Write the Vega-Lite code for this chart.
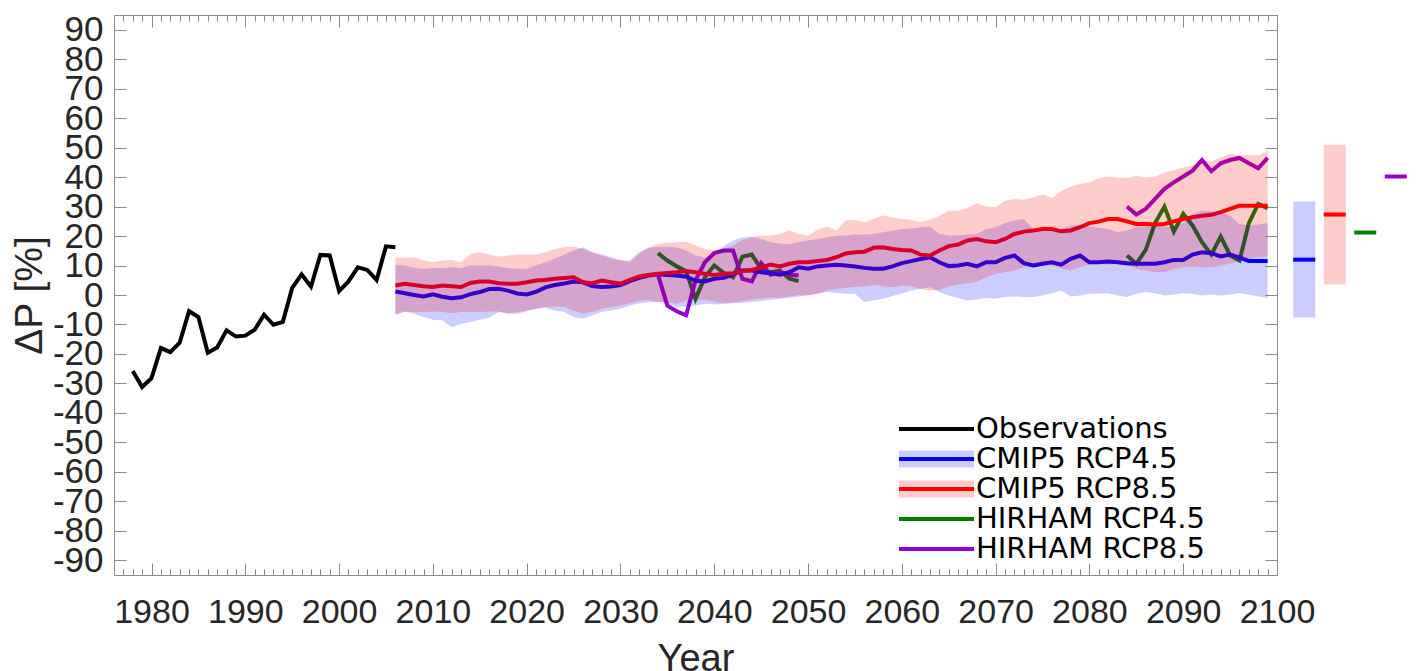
{
  "$schema": "https://vega.github.io/schema/vega-lite/v6.json",
  "padding": {"left": 9, "top": 12, "right": 0, "bottom": -7},
  "spacing": 12,
  "bounds": "flush",
  "datasets": {
    "obs": [
      {"s":"Observations","year":1978,"v":-25.8},{"s":"Observations","year":1979,"v":-31.2},{"s":"Observations","year":1980,"v":-28.2},
      {"s":"Observations","year":1981,"v":-18.0},{"s":"Observations","year":1982,"v":-19.4},{"s":"Observations","year":1983,"v":-16.2},
      {"s":"Observations","year":1984,"v":-5.5},{"s":"Observations","year":1985,"v":-7.5},{"s":"Observations","year":1986,"v":-19.6},
      {"s":"Observations","year":1987,"v":-17.8},{"s":"Observations","year":1988,"v":-12.0},{"s":"Observations","year":1989,"v":-14.1},
      {"s":"Observations","year":1990,"v":-13.8},{"s":"Observations","year":1991,"v":-11.8},{"s":"Observations","year":1992,"v":-6.7},
      {"s":"Observations","year":1993,"v":-10.1},{"s":"Observations","year":1994,"v":-9.1},{"s":"Observations","year":1995,"v":2.4},
      {"s":"Observations","year":1996,"v":7.0},{"s":"Observations","year":1997,"v":2.8},{"s":"Observations","year":1998,"v":13.6},
      {"s":"Observations","year":1999,"v":13.4},{"s":"Observations","year":2000,"v":1.3},{"s":"Observations","year":2001,"v":4.6},
      {"s":"Observations","year":2002,"v":9.4},{"s":"Observations","year":2003,"v":8.5},{"s":"Observations","year":2004,"v":5.1},
      {"s":"Observations","year":2005,"v":16.5},{"s":"Observations","year":2006,"v":16.2}
    ],
    "hir": [
      {"s":"HIRHAM RCP4.5","p":1,"year":2034,"v":14.2},{"s":"HIRHAM RCP4.5","p":1,"year":2035,"v":11.7},{"s":"HIRHAM RCP4.5","p":1,"year":2036,"v":9.7},
      {"s":"HIRHAM RCP4.5","p":1,"year":2037,"v":8.1},{"s":"HIRHAM RCP4.5","p":1,"year":2038,"v":-1.3},{"s":"HIRHAM RCP4.5","p":1,"year":2039,"v":6.0},
      {"s":"HIRHAM RCP4.5","p":1,"year":2040,"v":10.0},{"s":"HIRHAM RCP4.5","p":1,"year":2041,"v":7.5},{"s":"HIRHAM RCP4.5","p":1,"year":2042,"v":6.0},
      {"s":"HIRHAM RCP4.5","p":1,"year":2043,"v":13.0},{"s":"HIRHAM RCP4.5","p":1,"year":2044,"v":13.7},{"s":"HIRHAM RCP4.5","p":1,"year":2045,"v":8.9},
      {"s":"HIRHAM RCP4.5","p":1,"year":2046,"v":7.7},{"s":"HIRHAM RCP4.5","p":1,"year":2047,"v":8.3},{"s":"HIRHAM RCP4.5","p":1,"year":2048,"v":5.5},
      {"s":"HIRHAM RCP4.5","p":1,"year":2049,"v":4.7},
      {"s":"HIRHAM RCP4.5","p":2,"year":2084,"v":13.4},{"s":"HIRHAM RCP4.5","p":2,"year":2085,"v":10.6},{"s":"HIRHAM RCP4.5","p":2,"year":2086,"v":15.3},
      {"s":"HIRHAM RCP4.5","p":2,"year":2087,"v":24.4},{"s":"HIRHAM RCP4.5","p":2,"year":2088,"v":30.0},{"s":"HIRHAM RCP4.5","p":2,"year":2089,"v":21.6},
      {"s":"HIRHAM RCP4.5","p":2,"year":2090,"v":27.5},{"s":"HIRHAM RCP4.5","p":2,"year":2091,"v":23.6},{"s":"HIRHAM RCP4.5","p":2,"year":2092,"v":17.9},
      {"s":"HIRHAM RCP4.5","p":2,"year":2093,"v":13.7},{"s":"HIRHAM RCP4.5","p":2,"year":2094,"v":19.8},{"s":"HIRHAM RCP4.5","p":2,"year":2095,"v":13.4},
      {"s":"HIRHAM RCP4.5","p":2,"year":2096,"v":11.7},{"s":"HIRHAM RCP4.5","p":2,"year":2097,"v":24.4},{"s":"HIRHAM RCP4.5","p":2,"year":2098,"v":30.9},
      {"s":"HIRHAM RCP4.5","p":2,"year":2099,"v":29.5},
      {"s":"HIRHAM RCP8.5","p":1,"year":2034,"v":6.8},{"s":"HIRHAM RCP8.5","p":1,"year":2035,"v":-3.6},{"s":"HIRHAM RCP8.5","p":1,"year":2036,"v":-5.5},
      {"s":"HIRHAM RCP8.5","p":1,"year":2037,"v":-6.9},{"s":"HIRHAM RCP8.5","p":1,"year":2038,"v":4.9},{"s":"HIRHAM RCP8.5","p":1,"year":2039,"v":11.1},
      {"s":"HIRHAM RCP8.5","p":1,"year":2040,"v":14.2},{"s":"HIRHAM RCP8.5","p":1,"year":2041,"v":15.1},{"s":"HIRHAM RCP8.5","p":1,"year":2042,"v":15.1},
      {"s":"HIRHAM RCP8.5","p":1,"year":2043,"v":5.5},{"s":"HIRHAM RCP8.5","p":1,"year":2044,"v":4.6},{"s":"HIRHAM RCP8.5","p":1,"year":2045,"v":10.8},
      {"s":"HIRHAM RCP8.5","p":1,"year":2046,"v":6.9},{"s":"HIRHAM RCP8.5","p":1,"year":2047,"v":7.7},{"s":"HIRHAM RCP8.5","p":1,"year":2048,"v":6.9},
      {"s":"HIRHAM RCP8.5","p":1,"year":2049,"v":6.6},
      {"s":"HIRHAM RCP8.5","p":2,"year":2084,"v":30.0},{"s":"HIRHAM RCP8.5","p":2,"year":2085,"v":27.3},{"s":"HIRHAM RCP8.5","p":2,"year":2086,"v":29.2},
      {"s":"HIRHAM RCP8.5","p":2,"year":2087,"v":32.6},{"s":"HIRHAM RCP8.5","p":2,"year":2088,"v":36.0},{"s":"HIRHAM RCP8.5","p":2,"year":2089,"v":38.2},
      {"s":"HIRHAM RCP8.5","p":2,"year":2090,"v":40.2},{"s":"HIRHAM RCP8.5","p":2,"year":2091,"v":42.2},{"s":"HIRHAM RCP8.5","p":2,"year":2092,"v":45.8},
      {"s":"HIRHAM RCP8.5","p":2,"year":2093,"v":42.0},{"s":"HIRHAM RCP8.5","p":2,"year":2094,"v":44.7},{"s":"HIRHAM RCP8.5","p":2,"year":2095,"v":45.8},
      {"s":"HIRHAM RCP8.5","p":2,"year":2096,"v":46.5},{"s":"HIRHAM RCP8.5","p":2,"year":2097,"v":44.7},{"s":"HIRHAM RCP8.5","p":2,"year":2098,"v":43.0},
      {"s":"HIRHAM RCP8.5","p":2,"year":2099,"v":46.5}
    ],
    "cmip": [
      {"s":"CMIP5 RCP4.5","year":2006,"m":1.2,"lo":-6.9,"hi":10.2},{"s":"CMIP5 RCP4.5","year":2007,"m":0.6,"lo":-5.5,"hi":10.0},
      {"s":"CMIP5 RCP4.5","year":2008,"m":0.0,"lo":-6.4,"hi":9.2},{"s":"CMIP5 RCP4.5","year":2009,"m":-0.5,"lo":-7.5,"hi":8.9},
      {"s":"CMIP5 RCP4.5","year":2010,"m":0.2,"lo":-8.4,"hi":9.2},{"s":"CMIP5 RCP4.5","year":2011,"m":-0.6,"lo":-8.6,"hi":9.2},
      {"s":"CMIP5 RCP4.5","year":2012,"m":-1.1,"lo":-10.9,"hi":9.4},{"s":"CMIP5 RCP4.5","year":2013,"m":-0.8,"lo":-9.8,"hi":9.2},
      {"s":"CMIP5 RCP4.5","year":2014,"m":0.3,"lo":-9.2,"hi":10.0},{"s":"CMIP5 RCP4.5","year":2015,"m":1.0,"lo":-8.4,"hi":10.0},
      {"s":"CMIP5 RCP4.5","year":2016,"m":2.0,"lo":-7.7,"hi":10.0},{"s":"CMIP5 RCP4.5","year":2017,"m":2.1,"lo":-5.8,"hi":9.7},
      {"s":"CMIP5 RCP4.5","year":2018,"m":1.5,"lo":-6.2,"hi":9.2},{"s":"CMIP5 RCP4.5","year":2019,"m":0.5,"lo":-6.4,"hi":8.9},
      {"s":"CMIP5 RCP4.5","year":2020,"m":0.2,"lo":-5.5,"hi":8.9},{"s":"CMIP5 RCP4.5","year":2021,"m":1.1,"lo":-4.7,"hi":10.0},
      {"s":"CMIP5 RCP4.5","year":2022,"m":2.6,"lo":-4.3,"hi":11.1},{"s":"CMIP5 RCP4.5","year":2023,"m":3.4,"lo":-5.3,"hi":12.3},
      {"s":"CMIP5 RCP4.5","year":2024,"m":3.9,"lo":-5.8,"hi":13.7},{"s":"CMIP5 RCP4.5","year":2025,"m":4.6,"lo":-7.5,"hi":15.1},
      {"s":"CMIP5 RCP4.5","year":2026,"m":4.3,"lo":-8.1,"hi":16.2},{"s":"CMIP5 RCP4.5","year":2027,"m":3.0,"lo":-6.9,"hi":14.5},
      {"s":"CMIP5 RCP4.5","year":2028,"m":2.7,"lo":-5.8,"hi":13.7},{"s":"CMIP5 RCP4.5","year":2029,"m":2.9,"lo":-5.3,"hi":12.8},
      {"s":"CMIP5 RCP4.5","year":2030,"m":3.4,"lo":-4.7,"hi":11.7},{"s":"CMIP5 RCP4.5","year":2031,"m":4.7,"lo":-3.6,"hi":11.7},
      {"s":"CMIP5 RCP4.5","year":2032,"m":5.8,"lo":-2.8,"hi":14.5},{"s":"CMIP5 RCP4.5","year":2033,"m":6.6,"lo":-2.4,"hi":16.0},
      {"s":"CMIP5 RCP4.5","year":2034,"m":7.0,"lo":-2.4,"hi":16.4},{"s":"CMIP5 RCP4.5","year":2035,"m":6.8,"lo":-2.8,"hi":16.4},
      {"s":"CMIP5 RCP4.5","year":2036,"m":6.6,"lo":-4.1,"hi":16.2},{"s":"CMIP5 RCP4.5","year":2037,"m":6.2,"lo":-3.9,"hi":15.1},
      {"s":"CMIP5 RCP4.5","year":2038,"m":4.8,"lo":-3.6,"hi":13.4},{"s":"CMIP5 RCP4.5","year":2039,"m":4.6,"lo":-3.0,"hi":12.8},
      {"s":"CMIP5 RCP4.5","year":2040,"m":5.5,"lo":-3.2,"hi":14.0},{"s":"CMIP5 RCP4.5","year":2041,"m":5.8,"lo":-3.0,"hi":16.5},
      {"s":"CMIP5 RCP4.5","year":2042,"m":6.9,"lo":-2.8,"hi":18.5},{"s":"CMIP5 RCP4.5","year":2043,"m":8.3,"lo":-2.6,"hi":19.5},
      {"s":"CMIP5 RCP4.5","year":2044,"m":8.3,"lo":-2.4,"hi":19.8},{"s":"CMIP5 RCP4.5","year":2045,"m":7.7,"lo":-2.0,"hi":19.0},
      {"s":"CMIP5 RCP4.5","year":2046,"m":7.4,"lo":-1.6,"hi":17.9},{"s":"CMIP5 RCP4.5","year":2047,"m":6.9,"lo":-1.3,"hi":17.5},
      {"s":"CMIP5 RCP4.5","year":2048,"m":7.7,"lo":-1.0,"hi":17.2},{"s":"CMIP5 RCP4.5","year":2049,"m":9.4,"lo":-0.5,"hi":18.0},
      {"s":"CMIP5 RCP4.5","year":2050,"m":8.9,"lo":0.0,"hi":18.5},{"s":"CMIP5 RCP4.5","year":2051,"m":9.7,"lo":0.5,"hi":19.0},
      {"s":"CMIP5 RCP4.5","year":2052,"m":10.0,"lo":1.0,"hi":19.6},{"s":"CMIP5 RCP4.5","year":2053,"m":10.3,"lo":0.8,"hi":20.0},
      {"s":"CMIP5 RCP4.5","year":2054,"m":10.0,"lo":0.4,"hi":20.2},{"s":"CMIP5 RCP4.5","year":2055,"m":9.7,"lo":0.4,"hi":20.5},
      {"s":"CMIP5 RCP4.5","year":2056,"m":9.2,"lo":-2.4,"hi":20.5},{"s":"CMIP5 RCP4.5","year":2057,"m":8.9,"lo":-1.8,"hi":20.7},
      {"s":"CMIP5 RCP4.5","year":2058,"m":8.9,"lo":-1.3,"hi":21.3},{"s":"CMIP5 RCP4.5","year":2059,"m":9.7,"lo":-0.3,"hi":21.9},
      {"s":"CMIP5 RCP4.5","year":2060,"m":10.8,"lo":0.5,"hi":22.3},{"s":"CMIP5 RCP4.5","year":2061,"m":11.5,"lo":1.5,"hi":22.6},
      {"s":"CMIP5 RCP4.5","year":2062,"m":12.2,"lo":2.0,"hi":23.0},{"s":"CMIP5 RCP4.5","year":2063,"m":12.8,"lo":2.6,"hi":23.2},
      {"s":"CMIP5 RCP4.5","year":2064,"m":11.1,"lo":1.0,"hi":20.7},{"s":"CMIP5 RCP4.5","year":2065,"m":9.8,"lo":-0.2,"hi":20.3},
      {"s":"CMIP5 RCP4.5","year":2066,"m":10.0,"lo":-1.0,"hi":20.2},{"s":"CMIP5 RCP4.5","year":2067,"m":10.6,"lo":-1.9,"hi":20.5},
      {"s":"CMIP5 RCP4.5","year":2068,"m":9.7,"lo":-1.5,"hi":20.7},{"s":"CMIP5 RCP4.5","year":2069,"m":11.1,"lo":-1.0,"hi":22.4},
      {"s":"CMIP5 RCP4.5","year":2070,"m":11.1,"lo":-1.3,"hi":23.0},{"s":"CMIP5 RCP4.5","year":2071,"m":12.6,"lo":-0.7,"hi":24.4},
      {"s":"CMIP5 RCP4.5","year":2072,"m":13.4,"lo":-0.5,"hi":25.3},{"s":"CMIP5 RCP4.5","year":2073,"m":10.8,"lo":-0.7,"hi":25.8},
      {"s":"CMIP5 RCP4.5","year":2074,"m":10.0,"lo":-0.7,"hi":22.4},{"s":"CMIP5 RCP4.5","year":2075,"m":10.6,"lo":-0.2,"hi":21.9},
      {"s":"CMIP5 RCP4.5","year":2076,"m":11.1,"lo":0.6,"hi":22.1},{"s":"CMIP5 RCP4.5","year":2077,"m":10.3,"lo":1.5,"hi":22.4},
      {"s":"CMIP5 RCP4.5","year":2078,"m":12.3,"lo":-0.5,"hi":23.6},{"s":"CMIP5 RCP4.5","year":2079,"m":13.4,"lo":-0.2,"hi":23.6},
      {"s":"CMIP5 RCP4.5","year":2080,"m":11.1,"lo":0.4,"hi":23.2},{"s":"CMIP5 RCP4.5","year":2081,"m":11.1,"lo":0.4,"hi":22.8},
      {"s":"CMIP5 RCP4.5","year":2082,"m":11.4,"lo":0.6,"hi":22.4},{"s":"CMIP5 RCP4.5","year":2083,"m":11.1,"lo":-0.2,"hi":21.3},
      {"s":"CMIP5 RCP4.5","year":2084,"m":10.8,"lo":-0.7,"hi":21.9},{"s":"CMIP5 RCP4.5","year":2085,"m":10.6,"lo":0.4,"hi":23.0},
      {"s":"CMIP5 RCP4.5","year":2086,"m":10.6,"lo":1.0,"hi":23.2},{"s":"CMIP5 RCP4.5","year":2087,"m":10.6,"lo":0.6,"hi":23.6},
      {"s":"CMIP5 RCP4.5","year":2088,"m":11.1,"lo":-0.2,"hi":23.2},{"s":"CMIP5 RCP4.5","year":2089,"m":11.9,"lo":0.2,"hi":23.0},
      {"s":"CMIP5 RCP4.5","year":2090,"m":11.9,"lo":0.6,"hi":24.4},{"s":"CMIP5 RCP4.5","year":2091,"m":13.7,"lo":0.4,"hi":27.5},
      {"s":"CMIP5 RCP4.5","year":2092,"m":14.5,"lo":-0.2,"hi":28.6},{"s":"CMIP5 RCP4.5","year":2093,"m":14.2,"lo":0.2,"hi":28.4},
      {"s":"CMIP5 RCP4.5","year":2094,"m":13.1,"lo":-0.2,"hi":28.1},{"s":"CMIP5 RCP4.5","year":2095,"m":13.7,"lo":0.2,"hi":26.9},
      {"s":"CMIP5 RCP4.5","year":2096,"m":12.8,"lo":0.6,"hi":24.1},{"s":"CMIP5 RCP4.5","year":2097,"m":11.5,"lo":0.2,"hi":23.6},
      {"s":"CMIP5 RCP4.5","year":2098,"m":11.5,"lo":-0.5,"hi":23.9},{"s":"CMIP5 RCP4.5","year":2099,"m":11.5,"lo":-1.0,"hi":24.4},
      {"s":"CMIP5 RCP8.5","year":2006,"m":3.2,"lo":-6.4,"hi":12.6},{"s":"CMIP5 RCP8.5","year":2007,"m":3.8,"lo":-5.8,"hi":12.6},
      {"s":"CMIP5 RCP8.5","year":2008,"m":3.4,"lo":-5.8,"hi":12.8},{"s":"CMIP5 RCP8.5","year":2009,"m":3.0,"lo":-5.8,"hi":11.7},
      {"s":"CMIP5 RCP8.5","year":2010,"m":2.7,"lo":-5.6,"hi":11.1},{"s":"CMIP5 RCP8.5","year":2011,"m":3.2,"lo":-5.8,"hi":11.7},
      {"s":"CMIP5 RCP8.5","year":2012,"m":3.0,"lo":-6.2,"hi":11.9},{"s":"CMIP5 RCP8.5","year":2013,"m":2.7,"lo":-5.8,"hi":11.1},
      {"s":"CMIP5 RCP8.5","year":2014,"m":4.1,"lo":-5.8,"hi":14.0},{"s":"CMIP5 RCP8.5","year":2015,"m":4.6,"lo":-5.8,"hi":14.5},
      {"s":"CMIP5 RCP8.5","year":2016,"m":4.6,"lo":-5.6,"hi":13.7},{"s":"CMIP5 RCP8.5","year":2017,"m":4.0,"lo":-5.6,"hi":13.1},
      {"s":"CMIP5 RCP8.5","year":2018,"m":3.8,"lo":-6.4,"hi":13.4},{"s":"CMIP5 RCP8.5","year":2019,"m":3.8,"lo":-5.8,"hi":13.7},
      {"s":"CMIP5 RCP8.5","year":2020,"m":4.3,"lo":-5.3,"hi":13.7},{"s":"CMIP5 RCP8.5","year":2021,"m":4.9,"lo":-4.7,"hi":13.7},
      {"s":"CMIP5 RCP8.5","year":2022,"m":5.1,"lo":-4.1,"hi":14.5},{"s":"CMIP5 RCP8.5","year":2023,"m":5.5,"lo":-3.9,"hi":15.6},
      {"s":"CMIP5 RCP8.5","year":2024,"m":5.8,"lo":-4.1,"hi":16.2},{"s":"CMIP5 RCP8.5","year":2025,"m":6.0,"lo":-5.3,"hi":16.4},
      {"s":"CMIP5 RCP8.5","year":2026,"m":4.3,"lo":-6.4,"hi":15.6},{"s":"CMIP5 RCP8.5","year":2027,"m":4.0,"lo":-5.8,"hi":14.5},
      {"s":"CMIP5 RCP8.5","year":2028,"m":4.9,"lo":-4.7,"hi":13.4},{"s":"CMIP5 RCP8.5","year":2029,"m":4.3,"lo":-4.1,"hi":12.3},
      {"s":"CMIP5 RCP8.5","year":2030,"m":3.8,"lo":-3.6,"hi":11.9},{"s":"CMIP5 RCP8.5","year":2031,"m":5.1,"lo":-2.8,"hi":11.1},
      {"s":"CMIP5 RCP8.5","year":2032,"m":6.3,"lo":-1.9,"hi":14.0},{"s":"CMIP5 RCP8.5","year":2033,"m":6.8,"lo":-1.6,"hi":16.2},
      {"s":"CMIP5 RCP8.5","year":2034,"m":7.2,"lo":-2.4,"hi":17.3},{"s":"CMIP5 RCP8.5","year":2035,"m":7.5,"lo":-2.4,"hi":17.7},
      {"s":"CMIP5 RCP8.5","year":2036,"m":7.7,"lo":-3.0,"hi":17.9},{"s":"CMIP5 RCP8.5","year":2037,"m":8.1,"lo":-1.9,"hi":18.1},
      {"s":"CMIP5 RCP8.5","year":2038,"m":7.7,"lo":-1.9,"hi":16.8},{"s":"CMIP5 RCP8.5","year":2039,"m":7.2,"lo":-1.6,"hi":15.6},
      {"s":"CMIP5 RCP8.5","year":2040,"m":6.8,"lo":-2.1,"hi":15.1},{"s":"CMIP5 RCP8.5","year":2041,"m":7.2,"lo":-2.8,"hi":15.6},
      {"s":"CMIP5 RCP8.5","year":2042,"m":7.4,"lo":-2.5,"hi":16.8},{"s":"CMIP5 RCP8.5","year":2043,"m":8.1,"lo":-2.0,"hi":18.6},
      {"s":"CMIP5 RCP8.5","year":2044,"m":8.5,"lo":-1.5,"hi":19.6},{"s":"CMIP5 RCP8.5","year":2045,"m":9.4,"lo":-1.2,"hi":20.2},
      {"s":"CMIP5 RCP8.5","year":2046,"m":10.3,"lo":-0.8,"hi":20.2},{"s":"CMIP5 RCP8.5","year":2047,"m":9.7,"lo":-1.0,"hi":20.7},
      {"s":"CMIP5 RCP8.5","year":2048,"m":10.6,"lo":-0.5,"hi":21.9},{"s":"CMIP5 RCP8.5","year":2049,"m":11.1,"lo":0.0,"hi":20.7},
      {"s":"CMIP5 RCP8.5","year":2050,"m":11.1,"lo":-0.2,"hi":20.2},{"s":"CMIP5 RCP8.5","year":2051,"m":11.5,"lo":0.3,"hi":22.1},
      {"s":"CMIP5 RCP8.5","year":2052,"m":11.9,"lo":1.5,"hi":23.2},{"s":"CMIP5 RCP8.5","year":2053,"m":12.8,"lo":2.0,"hi":21.9},
      {"s":"CMIP5 RCP8.5","year":2054,"m":14.1,"lo":2.5,"hi":25.3},{"s":"CMIP5 RCP8.5","year":2055,"m":14.5,"lo":2.8,"hi":25.5},
      {"s":"CMIP5 RCP8.5","year":2056,"m":14.7,"lo":3.0,"hi":24.7},{"s":"CMIP5 RCP8.5","year":2057,"m":16.0,"lo":3.4,"hi":25.8},
      {"s":"CMIP5 RCP8.5","year":2058,"m":16.2,"lo":3.0,"hi":27.1},{"s":"CMIP5 RCP8.5","year":2059,"m":15.6,"lo":2.6,"hi":26.2},
      {"s":"CMIP5 RCP8.5","year":2060,"m":15.3,"lo":3.2,"hi":25.8},{"s":"CMIP5 RCP8.5","year":2061,"m":15.1,"lo":3.0,"hi":25.5},
      {"s":"CMIP5 RCP8.5","year":2062,"m":13.7,"lo":2.0,"hi":24.7},{"s":"CMIP5 RCP8.5","year":2063,"m":13.4,"lo":1.5,"hi":25.5},
      {"s":"CMIP5 RCP8.5","year":2064,"m":15.1,"lo":1.8,"hi":26.9},{"s":"CMIP5 RCP8.5","year":2065,"m":16.6,"lo":3.0,"hi":28.6},
      {"s":"CMIP5 RCP8.5","year":2066,"m":17.1,"lo":3.6,"hi":28.6},{"s":"CMIP5 RCP8.5","year":2067,"m":18.5,"lo":4.0,"hi":29.5},
      {"s":"CMIP5 RCP8.5","year":2068,"m":19.0,"lo":4.5,"hi":31.1},{"s":"CMIP5 RCP8.5","year":2069,"m":18.2,"lo":6.0,"hi":30.0},
      {"s":"CMIP5 RCP8.5","year":2070,"m":17.9,"lo":7.2,"hi":29.8},{"s":"CMIP5 RCP8.5","year":2071,"m":19.0,"lo":7.7,"hi":32.0},
      {"s":"CMIP5 RCP8.5","year":2072,"m":20.7,"lo":8.3,"hi":32.6},{"s":"CMIP5 RCP8.5","year":2073,"m":21.5,"lo":9.4,"hi":32.3},
      {"s":"CMIP5 RCP8.5","year":2074,"m":21.9,"lo":10.0,"hi":33.2},{"s":"CMIP5 RCP8.5","year":2075,"m":22.4,"lo":10.3,"hi":34.1},
      {"s":"CMIP5 RCP8.5","year":2076,"m":22.4,"lo":10.0,"hi":32.9},{"s":"CMIP5 RCP8.5","year":2077,"m":21.6,"lo":8.9,"hi":35.4},
      {"s":"CMIP5 RCP8.5","year":2078,"m":21.9,"lo":8.3,"hi":36.8},{"s":"CMIP5 RCP8.5","year":2079,"m":23.0,"lo":9.4,"hi":37.7},
      {"s":"CMIP5 RCP8.5","year":2080,"m":24.4,"lo":10.3,"hi":38.2},{"s":"CMIP5 RCP8.5","year":2081,"m":24.9,"lo":10.6,"hi":39.7},
      {"s":"CMIP5 RCP8.5","year":2082,"m":25.8,"lo":10.3,"hi":40.2},{"s":"CMIP5 RCP8.5","year":2083,"m":25.8,"lo":10.6,"hi":39.9},
      {"s":"CMIP5 RCP8.5","year":2084,"m":25.0,"lo":10.0,"hi":39.7},{"s":"CMIP5 RCP8.5","year":2085,"m":24.1,"lo":8.9,"hi":40.5},
      {"s":"CMIP5 RCP8.5","year":2086,"m":24.1,"lo":8.3,"hi":39.9},{"s":"CMIP5 RCP8.5","year":2087,"m":23.9,"lo":7.7,"hi":40.2},
      {"s":"CMIP5 RCP8.5","year":2088,"m":24.1,"lo":7.7,"hi":41.6},{"s":"CMIP5 RCP8.5","year":2089,"m":25.0,"lo":8.9,"hi":42.4},
      {"s":"CMIP5 RCP8.5","year":2090,"m":25.8,"lo":9.4,"hi":43.3},{"s":"CMIP5 RCP8.5","year":2091,"m":26.4,"lo":9.7,"hi":43.9},
      {"s":"CMIP5 RCP8.5","year":2092,"m":26.9,"lo":9.4,"hi":45.6},{"s":"CMIP5 RCP8.5","year":2093,"m":27.2,"lo":9.4,"hi":45.4},
      {"s":"CMIP5 RCP8.5","year":2094,"m":28.1,"lo":10.0,"hi":46.7},{"s":"CMIP5 RCP8.5","year":2095,"m":29.2,"lo":10.6,"hi":47.9},
      {"s":"CMIP5 RCP8.5","year":2096,"m":30.3,"lo":11.7,"hi":47.3},{"s":"CMIP5 RCP8.5","year":2097,"m":30.3,"lo":12.3,"hi":47.6},
      {"s":"CMIP5 RCP8.5","year":2098,"m":30.3,"lo":12.8,"hi":47.3},{"s":"CMIP5 RCP8.5","year":2099,"m":30.3,"lo":13.1,"hi":49.0}
    ],
    "side": [
      {"s":"CMIP5 RCP4.5","m":12.0,"lo":-7.6,"hi":31.7},
      {"s":"CMIP5 RCP8.5","m":27.3,"lo":3.6,"hi":51.0},
      {"s":"HIRHAM RCP4.5","m":21.2,"lo":null,"hi":null},
      {"s":"HIRHAM RCP8.5","m":40.2,"lo":null,"hi":null}
    ]
  },
  "hconcat": [
    {
      "width": 1163,
      "height": 560,
      "view": {"stroke": "#8c8c8c", "strokeWidth": 1},
      "resolve": {"axis": {"x": "independent", "y": "independent"}},
      "layer": [
        {
          "data": {"name": "obs"},
          "mark": {"type": "line", "strokeWidth": 4},
          "encoding": {
            "x": {"field": "year", "type": "quantitative", "scale": {"domain": [1976, 2100], "nice": false, "zero": false},
              "axis": {"orient": "bottom", "values": [1980,1990,2000,2010,2020,2030,2040,2050,2060,2070,2080,2090,2100], "labelExpr": "'' + datum.value", "ticks": false, "labelPadding": 20, "labelFontSize": 34, "title": "Year", "titleX": 581.5, "titleY": 95, "titleAlign": "center", "titleBaseline": "alphabetic", "titleFontSize": 38}},
            "y": {"field": "v", "type": "quantitative", "scale": {"domain": [-95, 95], "nice": false, "zero": false},
              "axis": {"orient": "left", "values": [-90,-80,-70,-60,-50,-40,-30,-20,-10,0,10,20,30,40,50,60,70,80,90], "labelExpr": "'' + datum.value", "ticks": false, "labelPadding": 11, "labelFontSize": 35, "title": "ΔP [%]", "titleAngle": 270, "titleX": -73, "titleY": 280, "titleAlign": "center", "titleBaseline": "alphabetic", "titleFontSize": 39}},
            "stroke": {"field": "s", "type": "nominal",
              "scale": {"domain": ["Observations","CMIP5 RCP4.5","CMIP5 RCP8.5","HIRHAM RCP4.5","HIRHAM RCP8.5"], "range": ["#000000","#0000ff","#ff0000","#008000","#9400d3"]},
              "legend": {"orient": "none", "legendX": 785, "legendY": 399.5, "direction": "vertical", "title": null, "symbolType": "M-3.75,0L3.75,0", "symbolSize": 400, "symbolOffset": 23, "symbolStrokeWidth": 4, "symbolFillColor": "transparent", "labelFont": "DejaVu Sans", "labelFontSize": 29, "labelOffset": 25, "rowPadding": 0, "padding": 0, "zindex": 1}}
          }
        },
        {
          "data": {"name": "hir"},
          "mark": {"type": "line", "strokeWidth": 4},
          "encoding": {
            "x": {"field": "year", "type": "quantitative", "scale": {"domain": [1976, 2100], "nice": false, "zero": false},
              "axis": {"orient": "bottom", "values": [1980,1990,2000,2010,2020,2030,2040,2050,2060,2070,2080,2090,2100], "labels": false, "tickSize": -12, "title": null}},
            "y": {"field": "v", "type": "quantitative", "scale": {"domain": [-95, 95], "nice": false, "zero": false},
              "axis": {"orient": "left", "values": [-90,-80,-70,-60,-50,-40,-30,-20,-10,0,10,20,30,40,50,60,70,80,90], "labels": false, "tickSize": -12, "title": null}},
            "detail": {"field": "p", "type": "nominal"},
            "stroke": {"field": "s", "type": "nominal",
              "scale": {"domain": ["Observations","CMIP5 RCP4.5","CMIP5 RCP8.5","HIRHAM RCP4.5","HIRHAM RCP8.5"], "range": ["#000000","#0000ff","#ff0000","#008000","#9400d3"]}}
          }
        },
        {
          "data": {"name": "cmip"},
          "mark": {"type": "line", "strokeWidth": 4},
          "encoding": {
            "x": {"field": "year", "type": "quantitative", "scale": {"domain": [1976, 2100], "nice": false, "zero": false},
              "axis": {"orient": "bottom", "values": [1976,1977,1978,1979,1980,1981,1982,1983,1984,1985,1986,1987,1988,1989,1990,1991,1992,1993,1994,1995,1996,1997,1998,1999,2000,2001,2002,2003,2004,2005,2006,2007,2008,2009,2010,2011,2012,2013,2014,2015,2016,2017,2018,2019,2020,2021,2022,2023,2024,2025,2026,2027,2028,2029,2030,2031,2032,2033,2034,2035,2036,2037,2038,2039,2040,2041,2042,2043,2044,2045,2046,2047,2048,2049,2050,2051,2052,2053,2054,2055,2056,2057,2058,2059,2060,2061,2062,2063,2064,2065,2066,2067,2068,2069,2070,2071,2072,2073,2074,2075,2076,2077,2078,2079,2080,2081,2082,2083,2084,2085,2086,2087,2088,2089,2090,2091,2092,2093,2094,2095,2096,2097,2098,2099,2100], "labels": false, "tickSize": -6, "title": null}},
            "y": {"field": "m", "type": "quantitative", "scale": {"domain": [-95, 95], "nice": false, "zero": false},
              "axis": {"orient": "right", "values": [-90,-80,-70,-60,-50,-40,-30,-20,-10,0,10,20,30,40,50,60,70,80,90], "labels": false, "tickSize": -12, "title": null}},
            "stroke": {"field": "s", "type": "nominal",
              "scale": {"domain": ["Observations","CMIP5 RCP4.5","CMIP5 RCP8.5","HIRHAM RCP4.5","HIRHAM RCP8.5"], "range": ["#000000","#0000ff","#ff0000","#008000","#9400d3"]}}
          }
        },
        {
          "data": {"name": "cmip"},
          "transform": [{"filter": "datum.s === 'CMIP5 RCP4.5'"}],
          "mark": {"type": "area", "fillOpacity": 0.2},
          "encoding": {
            "x": {"field": "year", "type": "quantitative", "scale": {"domain": [1976, 2100], "nice": false, "zero": false},
              "axis": {"orient": "top", "values": [1976,1977,1978,1979,1980,1981,1982,1983,1984,1985,1986,1987,1988,1989,1990,1991,1992,1993,1994,1995,1996,1997,1998,1999,2000,2001,2002,2003,2004,2005,2006,2007,2008,2009,2010,2011,2012,2013,2014,2015,2016,2017,2018,2019,2020,2021,2022,2023,2024,2025,2026,2027,2028,2029,2030,2031,2032,2033,2034,2035,2036,2037,2038,2039,2040,2041,2042,2043,2044,2045,2046,2047,2048,2049,2050,2051,2052,2053,2054,2055,2056,2057,2058,2059,2060,2061,2062,2063,2064,2065,2066,2067,2068,2069,2070,2071,2072,2073,2074,2075,2076,2077,2078,2079,2080,2081,2082,2083,2084,2085,2086,2087,2088,2089,2090,2091,2092,2093,2094,2095,2096,2097,2098,2099,2100], "labels": false, "tickSize": -6, "title": null}},
            "y": {"field": "hi", "type": "quantitative", "scale": {"domain": [-95, 95], "nice": false, "zero": false}, "axis": null},
            "y2": {"field": "lo"},
            "fill": {"field": "s", "type": "nominal",
              "scale": {"domain": ["CMIP5 RCP4.5","CMIP5 RCP8.5","Observations","HIRHAM RCP4.5","HIRHAM RCP8.5"], "range": ["#0000ff","#ff0000","transparent","transparent","transparent"]},
              "legend": {"orient": "none", "legendX": 785, "legendY": 399.5, "direction": "vertical", "title": null, "values": ["Observations","CMIP5 RCP4.5","CMIP5 RCP8.5","HIRHAM RCP4.5","HIRHAM RCP8.5"], "symbolType": "M-3.75,-0.85L3.75,-0.85L3.75,0.85L-3.75,0.85Z", "symbolSize": 400, "symbolOffset": 23, "symbolOpacity": 0.2, "symbolStrokeWidth": 0, "symbolStrokeColor": "transparent", "labelFont": "DejaVu Sans", "labelFontSize": 29, "labelColor": "transparent", "labelOffset": 25, "rowPadding": 0, "padding": 0, "zindex": 0}}
          }
        },
        {
          "data": {"name": "cmip"},
          "transform": [{"filter": "datum.s === 'CMIP5 RCP8.5'"}],
          "mark": {"type": "area", "fillOpacity": 0.2},
          "encoding": {
            "x": {"field": "year", "type": "quantitative", "scale": {"domain": [1976, 2100], "nice": false, "zero": false},
              "axis": {"orient": "top", "values": [1980,1990,2000,2010,2020,2030,2040,2050,2060,2070,2080,2090,2100], "labels": false, "tickSize": -12, "title": null}},
            "y": {"field": "hi", "type": "quantitative", "scale": {"domain": [-95, 95], "nice": false, "zero": false}, "axis": null},
            "y2": {"field": "lo"},
            "fill": {"field": "s", "type": "nominal",
              "scale": {"domain": ["CMIP5 RCP4.5","CMIP5 RCP8.5","Observations","HIRHAM RCP4.5","HIRHAM RCP8.5"], "range": ["#0000ff","#ff0000","transparent","transparent","transparent"]}}
          }
        }
      ]
    },
    {
      "width": 122,
      "height": 560,
      "view": {"stroke": null},
      "data": {"name": "side"},
      "layer": [
        {
          "mark": {"type": "bar", "fillOpacity": 0.2},
          "encoding": {
            "x": {"field": "s", "type": "nominal", "scale": {"domain": ["CMIP5 RCP4.5","CMIP5 RCP8.5","HIRHAM RCP4.5","HIRHAM RCP8.5"], "paddingInner": 0.28, "paddingOuter": 0.14}, "axis": null},
            "y": {"field": "hi", "type": "quantitative", "scale": {"domain": [-95, 95], "nice": false, "zero": false}, "axis": null},
            "y2": {"field": "lo"},
            "color": {"field": "s", "type": "nominal", "scale": {"domain": ["CMIP5 RCP4.5","CMIP5 RCP8.5","HIRHAM RCP4.5","HIRHAM RCP8.5"], "range": ["#0000ff","#ff0000","#008000","#9400d3"]}, "legend": null}
          }
        },
        {
          "mark": {"type": "tick", "thickness": 4, "size": 22, "opacity": 1},
          "encoding": {
            "x": {"field": "s", "type": "nominal", "scale": {"domain": ["CMIP5 RCP4.5","CMIP5 RCP8.5","HIRHAM RCP4.5","HIRHAM RCP8.5"], "paddingInner": 0.28, "paddingOuter": 0.14}, "axis": null},
            "y": {"field": "m", "type": "quantitative", "scale": {"domain": [-95, 95], "nice": false, "zero": false}, "axis": null},
            "color": {"field": "s", "type": "nominal", "scale": {"domain": ["CMIP5 RCP4.5","CMIP5 RCP8.5","HIRHAM RCP4.5","HIRHAM RCP8.5"], "range": ["#0000ff","#ff0000","#008000","#9400d3"]}, "legend": null}
          }
        }
      ]
    }
  ],
  "resolve": {"scale": {"stroke": "independent", "fill": "independent", "color": "independent"}, "legend": {"stroke": "independent", "fill": "independent", "color": "independent"}},
  "config": {
    "font": "Liberation Sans",
    "view": {"stroke": null},
    "axis": {"grid": false, "domain": false, "tickColor": "#8c8c8c", "tickWidth": 1, "labelFont": "Liberation Sans", "labelColor": "#262626", "labelFontSize": 34, "titleFont": "Liberation Sans", "titleColor": "#262626", "titleFontWeight": "normal", "titleFontSize": 38, "labelFlush": false, "labelOverlap": false, "labelBound": false},
    "legend": {"labelFont": "DejaVu Sans", "labelFontSize": 29, "labelColor": "#000000", "labelLimit": 0}
  }
}
